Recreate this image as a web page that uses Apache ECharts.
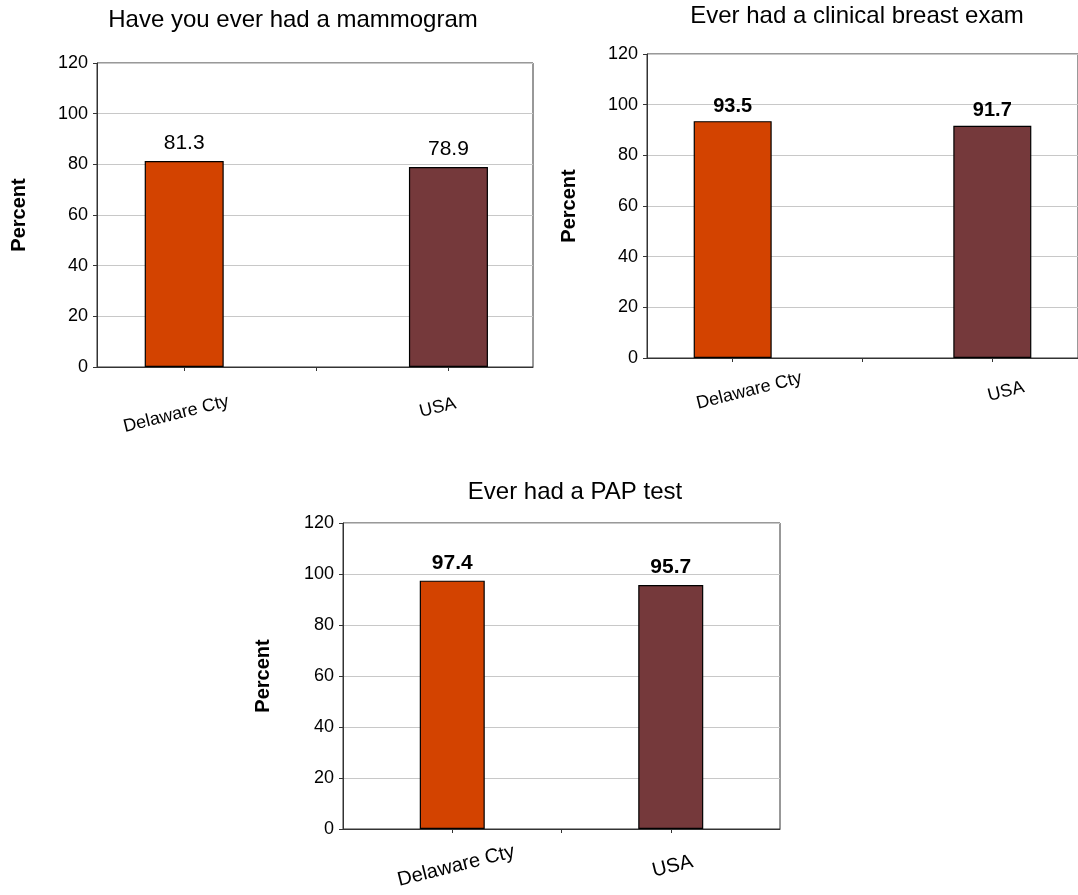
<!DOCTYPE html>
<html>
<head>
<meta charset="utf-8">
<title>Screening rates: Delaware Cty vs USA</title>
<script src="https://cdn.jsdelivr.net/npm/echarts@6/dist/echarts.min.js"></script>
<style>
  html, body { margin: 0; padding: 0; background: #fff; }
  #chart { width: 1078px; height: 895px; }
</style>
</head>
<body>
<div id="chart"></div>
<script>
// Data
const categories = ['Delaware Cty', 'USA'];
const mammogram = [81.3, 78.9];
const clinicalExam = [93.5, 91.7];
const papTest = [97.4, 95.7];
const titles = ['Have you ever had a mammogram', 'Ever had a clinical breast exam', 'Ever had a PAP test'];
const yAxisName = 'Percent';

// Styling
const FONT = '"Liberation Sans", Arial, Helvetica, sans-serif';
const barColors = ['#D34300', '#75393B'];

// One panel = grid + x axis + y axis + bar series
const panels = [
  { values: mammogram, grid: { left: 97, top: 63, width: 436, height: 304 },
    xMin: -0.33, xMax: 1.32, barWidth: 79, labelBold: false, labelSize: 21, labelDist: 7,
    title: { left: 293, top: 8 }, nameGap: 68, catSize: 18, catMargin: 38,
    catPad: [[14, 20, 0, 0], [0, 22, 0, 0]] },
  { values: clinicalExam, grid: { left: 647, top: 54, width: 438, height: 304 },
    xMin: -0.33, xMax: 1.33, barWidth: 78, labelBold: true, labelSize: 20, labelDist: 5,
    title: { left: 857, top: 4 }, nameGap: 68, catSize: 18, catMargin: 37,
    catPad: [[0, 0, 0, 34], [0, 0, 0, 28]] },
  { values: papTest, grid: { left: 343, top: 523, width: 437, height: 306 },
    xMin: -0.5, xMax: 1.5, barWidth: 65, labelBold: true, labelSize: 21, labelDist: 7,
    title: { left: 575, top: 480 }, nameGap: 70, catSize: 20, catMargin: 38,
    catPad: [[0, 0, 0, 8], [0, 0, 0, 4]] }
];

const option = {
  animation: false,
  backgroundColor: '#fff',
  textStyle: { fontFamily: FONT },
  title: panels.map((p, i) => ({
    text: titles[i],
    left: p.title.left,
    top: p.title.top,
    textAlign: 'center',
    padding: 0,
    textStyle: { fontFamily: FONT, fontSize: 24, fontWeight: 'normal', color: '#000' }
  })),
  grid: panels.map(p => Object.assign({
    show: true, borderColor: '#333', borderWidth: 1, backgroundColor: '#fff'
  }, p.grid)),
  xAxis: panels.map((p, i) => {
    const rich = {};
    categories.forEach((c, k) => {
      rich['c' + k] = { fontFamily: FONT, fontSize: p.catSize, color: '#000', padding: p.catPad[k] };
    });
    return {
      type: 'value', gridIndex: i, min: p.xMin, max: p.xMax,
      splitLine: { show: false },
      axisLine: { show: true, onZero: false, lineStyle: { color: '#333', width: 1 } },
      axisTick: { show: true, customValues: [0, 0.5, 1], length: 4, inside: false,
                  lineStyle: { color: '#333' } },
      axisLabel: {
        customValues: categories.map((c, k) => k),
        rotate: 14, align: 'center', verticalAlign: 'middle', margin: p.catMargin,
        formatter: v => '{c' + Math.round(v) + '|' + categories[Math.round(v)] + '}',
        rich: rich
      }
    };
  }),
  yAxis: panels.map((p, i) => ({
    type: 'value', gridIndex: i, min: 0, max: 120, interval: 20,
    name: yAxisName, nameLocation: 'middle', nameRotate: 90, nameGap: p.nameGap,
    nameTextStyle: { fontFamily: FONT, fontSize: 20, fontWeight: 'bold', color: '#000' },
    axisLine: { show: true, onZero: false, lineStyle: { color: '#333', width: 1 } },
    axisTick: { show: true, length: 4, lineStyle: { color: '#333' } },
    axisLabel: { fontFamily: FONT, fontSize: 18, color: '#000', margin: 9 },
    splitLine: { show: true, lineStyle: { color: '#c8c8c8', width: 1 } }
  })),
  series: panels.map((p, i) => ({
    type: 'bar', xAxisIndex: i, yAxisIndex: i, barWidth: p.barWidth,
    data: p.values.map((v, k) => ({
      value: [k, v],
      itemStyle: { color: barColors[k], borderColor: '#000', borderWidth: 1.2 }
    })),
    label: {
      show: true, position: 'top', distance: p.labelDist,
      fontFamily: FONT, fontSize: p.labelSize,
      fontWeight: p.labelBold ? 'bold' : 'normal', color: '#000',
      formatter: d => d.value[1].toFixed(1)
    }
  }))
};

echarts.init(document.getElementById('chart'), null, { renderer: 'canvas' }).setOption(option);
</script>
</body>
</html>
